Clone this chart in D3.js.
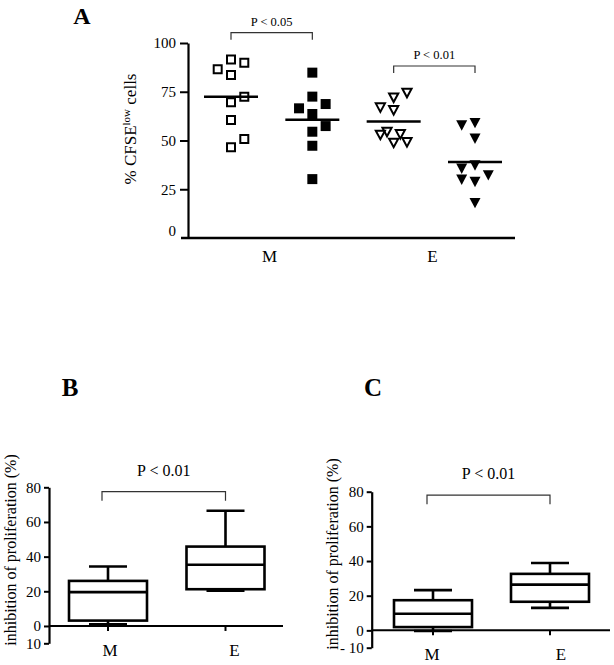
<!DOCTYPE html>
<html>
<head>
<meta charset="utf-8">
<script src="https://cdn.jsdelivr.net/npm/d3@7"></script>
<style>
  html, body { margin: 0; padding: 0; background: #fff; }
  svg { display: block; }
  text { font-family: "Liberation Serif", "Times New Roman", serif; fill: #000; }
</style>
</head>
<body>
<svg id="chart" width="614" height="665"></svg>
<script>
// ---------------- Panel A data ----------------
const aGroups = ["M open", "M filled", "E open", "E filled"];
const aCategories = ["M", "E"];
const aTicks = [0, 25, 50, 75, 100];
const mOpenValues   = [91.6, 89.9, 86.5, 83.6, 72.5, 69.6, 60.5, 50.8, 46.5];
const mOpenLanes    = [0, 1, -1, 0, 1, 0, 0, 1, 0];
const mFilledValues = [84.8, 72.5, 68.7, 66.5, 63.6, 57.4, 54.5, 47.3, 30.2];
const mFilledLanes  = [0, 0, 1, -1, 0, 1, 0, 0, 0];
const eOpenValues   = [74.5, 72.1, 67.0, 65.6, 54.5, 53.3, 53.0, 49.2, 48.9];
const eOpenLanes    = [1, 0, -1, 0, -0.5, 0.5, -1, 1, 0];
const eFilledValues = [59.1, 57.9, 51.1, 37.4, 35.7, 32.3, 30.1, 28.9, 18.1];
const eFilledLanes  = [0, -1, 0, 0, -1, 1, -1, 0, 0];
const aBrackets = [
  { from: "M open", to: "M filled", level: 105.3, label: "P < 0.05" },
  { from: "E open", to: "E filled", level: 88.2, label: "P < 0.01" }
];

// ---------------- Panel B / C data ----------------
const boxCategories = ["M", "E"];
const boxTicks = [-10, 0, 20, 40, 60, 80];
const bTickLabels = ["10", "0", "20", "40", "60", "80"];
const cTickLabels = ["- 10", "0", "20", "40", "60", "80"];
// [whisker low, Q1, median, Q3, whisker high]
const bM = [1.0, 3.1, 19.5, 26.0, 34.3];
const bE = [20.4, 21.2, 35.3, 45.8, 66.5];
const cM = [-0.4, 1.9, 9.6, 17.4, 23.2];
const cE = [13.0, 16.5, 26.4, 32.6, 38.9];
const bracketLevelB = 77.5;
const bracketLevelC = 78;
const pLabelBC = "P < 0.01";

const svg = d3.select("#chart");

// =============== Panel A ===============
(function () {
  const g = svg.append("g");
  const y = d3.scaleLinear().domain([0, 100]).range([238, 43]);
  const x = d3.scalePoint().domain(aGroups).range([231, 475]);
  const laneStep = 13.3;

  // panel letter
  g.append("text").attr("x", 82).attr("y", 24).attr("text-anchor", "middle")
    .style("font-size", "24px").style("font-weight", "bold").text("A");

  // y axis
  const ya = g.append("g").attr("transform", "translate(188,0)")
    .call(d3.axisLeft(y).tickValues(aTicks).tickSize(8).tickSizeOuter(0).tickPadding(4));
  ya.select(".domain").attr("stroke", "#000").attr("stroke-width", 2.2);
  ya.selectAll(".tick line").attr("stroke", "#000").attr("stroke-width", 2);
  ya.selectAll(".tick text").style("font-size", "15px").style("font-family", "Liberation Serif")
    .attr("fill", "#000");
  ya.selectAll(".tick").filter(d => d === 0).select("text").attr("dy", "-0.2em");
  ya.selectAll(".tick").filter(d => d === 0).select("line").remove();

  // x axis line
  g.append("line").attr("x1", 181).attr("x2", 515).attr("y1", y(0)).attr("y2", y(0))
    .attr("stroke", "#000").attr("stroke-width", 2.4);

  // category labels
  aCategories.forEach((c, i) => {
    const cx = (x(aGroups[2 * i]) + x(aGroups[2 * i + 1])) / 2;
    g.append("text").attr("x", cx - 2).attr("y", 262).attr("text-anchor", "middle")
      .style("font-size", "17px").text(c);
  });

  // y title
  const t = g.append("text").attr("transform", "translate(136,129) rotate(-90)")
    .attr("text-anchor", "middle").style("font-size", "17px");
  t.append("tspan").text("% CFSE");
  t.append("tspan").attr("dy", -6).style("font-size", "11px").text("low");
  t.append("tspan").attr("dy", 6).text(" cells");

  const series = [
    { key: "M open", values: mOpenValues, lanes: mOpenLanes, shape: "square", filled: false },
    { key: "M filled", values: mFilledValues, lanes: mFilledLanes, shape: "square", filled: true },
    { key: "E open", values: eOpenValues, lanes: eOpenLanes, shape: "tri", filled: false },
    { key: "E filled", values: eFilledValues, lanes: eFilledLanes, shape: "tri", filled: true }
  ];

  series.forEach(s => {
    const pts = s.values.map((v, i) => ({ v, lane: s.lanes[i] }));
    const sel = g.append("g").selectAll("path").data(pts).join("path")
      .attr("transform", d => `translate(${x(s.key) + d.lane * laneStep},${y(d.v)})`);
    if (s.shape === "square") {
      if (s.filled) sel.attr("d", "M-5,-5H5V5H-5Z").attr("fill", "#000");
      else sel.attr("d", "M-4,-4H4V4H-4Z").attr("fill", "#fff").attr("stroke", "#000").attr("stroke-width", 2);
    } else {
      if (s.filled) sel.attr("d", "M-5.5,-4.8L5.5,-4.8L0,5.6Z").attr("fill", "#000");
      else sel.attr("d", "M-4.6,-4L4.6,-4L0,4.6Z").attr("fill", "#fff").attr("stroke", "#000")
        .attr("stroke-width", 2).attr("stroke-linejoin", "miter");
    }
    const m = d3.mean(s.values);
    g.append("line").attr("x1", x(s.key) - 27).attr("x2", x(s.key) + 27)
      .attr("y1", y(m)).attr("y2", y(m)).attr("stroke", "#000").attr("stroke-width", 2.5);
  });

  aBrackets.forEach(b => {
    const x1 = x(b.from), x2 = x(b.to), yy = y(b.level);
    g.append("path").attr("d", `M${x1},${yy + 7}V${yy}H${x2}V${yy + 7}`)
      .attr("fill", "none").attr("stroke", "#333").attr("stroke-width", 1.2);
    g.append("text").attr("x", (x1 + x2) / 2).attr("y", yy - 7).attr("text-anchor", "middle")
      .style("font-size", "12.5px").text(b.label);
  });
})();

// =============== Box panels ===============
function boxPanel(opt) {
  const g = svg.append("g");
  const y = d3.scaleLinear().domain([-10, 80]).range([opt.yBottom, opt.yTop]);
  const x = d3.scalePoint().domain(boxCategories).range(opt.xRange);

  g.append("text").attr("x", opt.letterX).attr("y", 396).attr("text-anchor", "middle")
    .style("font-size", "25px").style("font-weight", "bold").text(opt.letter);

  const ya = g.append("g").attr("transform", `translate(${opt.axisX},0)`)
    .call(d3.axisLeft(y).tickValues(boxTicks).tickSize(5).tickSizeOuter(0).tickPadding(3)
      .tickFormat((d, i) => opt.tickLabels[i]));
  ya.select(".domain").attr("stroke", "#000").attr("stroke-width", 2.2);
  ya.selectAll(".tick line").attr("stroke", "#000").attr("stroke-width", 2);
  ya.selectAll(".tick text").style("font-size", "15px").style("font-family", "Liberation Serif")
    .attr("fill", "#000");

  // x axis at 0
  g.append("line").attr("x1", opt.axisX).attr("x2", opt.xEnd).attr("y1", y(0)).attr("y2", y(0))
    .attr("stroke", "#000").attr("stroke-width", 2);
  boxCategories.forEach((c, i) => {
    g.append("line").attr("x1", x(c)).attr("x2", x(c)).attr("y1", y(0)).attr("y2", y(0) + 5)
      .attr("stroke", "#000").attr("stroke-width", 2);
    g.append("text").attr("x", x(c) + opt.labelDx[i]).attr("y", opt.labelY).attr("text-anchor", "middle")
      .style("font-size", "17px").text(c);
  });

  // y title
  g.append("text").attr("transform", `translate(${opt.titleX},${opt.titleY}) rotate(-90)`)
    .attr("text-anchor", "middle").style("font-size", "16px").text("inhibition of proliferation (%)");

  const boxW = 78, capW = 38;
  opt.boxes.forEach((b, i) => {
    const cx = x(boxCategories[i]);
    const [lo, q1, med, q3, hi] = b;
    const st = s => s.attr("stroke", "#000").attr("stroke-width", 2.6).attr("fill", "none");
    st(g.append("line").attr("x1", cx).attr("x2", cx).attr("y1", y(q3)).attr("y2", y(hi)));
    st(g.append("line").attr("x1", cx).attr("x2", cx).attr("y1", y(q1)).attr("y2", y(lo)));
    st(g.append("line").attr("x1", cx - capW / 2).attr("x2", cx + capW / 2).attr("y1", y(hi)).attr("y2", y(hi)));
    st(g.append("line").attr("x1", cx - capW / 2).attr("x2", cx + capW / 2).attr("y1", y(lo)).attr("y2", y(lo)));
    st(g.append("rect").attr("x", cx - boxW / 2).attr("width", boxW)
      .attr("y", y(q3)).attr("height", y(q1) - y(q3)).attr("fill", "#fff"));
    st(g.append("line").attr("x1", cx - boxW / 2).attr("x2", cx + boxW / 2).attr("y1", y(med)).attr("y2", y(med)));
  });

  const x1 = x("M") - 6, x2 = x("E"), yy = y(opt.bracketLevel);
  g.append("path").attr("d", `M${x1},${yy + 9}V${yy}H${x2}V${yy + 9}`)
    .attr("fill", "none").attr("stroke", "#333").attr("stroke-width", 1.2);
  g.append("text").attr("x", (x1 + x2) / 2).attr("y", yy - 16).attr("text-anchor", "middle")
    .style("font-size", "16px").text(pLabelBC);
}

boxPanel({
  letter: "B", letterX: 70, axisX: 49, xEnd: 283, yTop: 487.3, yBottom: 643.3,
  xRange: [108, 225.5], tickLabels: bTickLabels, labelDx: [2, 9], labelY: 656,
  titleX: 16, titleY: 550, boxes: [bM, bE], bracketLevel: bracketLevelB
});
boxPanel({
  letter: "C", letterX: 373, axisX: 371.7, xEnd: 610, yTop: 491.7, yBottom: 647.7,
  xRange: [433, 550], tickLabels: cTickLabels, labelDx: [-1, 11], labelY: 660,
  titleX: 338, titleY: 554, boxes: [cM, cE], bracketLevel: bracketLevelC
});
</script>
</body>
</html>
